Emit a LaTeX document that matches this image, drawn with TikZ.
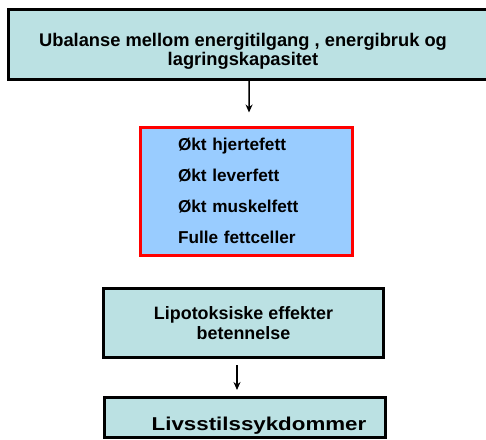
\documentclass[tikz,border=0pt]{standalone}
\usepackage{fontspec}
\setmainfont{Liberation Sans}
\newfontfamily\wideface{Liberation Sans}[FakeStretch=1.2]
\usepackage{tikz}
\usetikzlibrary{arrows.meta, positioning}
\definecolor{tealfill}{HTML}{BBE1E3}
\definecolor{bluefill}{HTML}{99CCFF}
\tikzstyle{box} = [rectangle, draw=black, line width=3pt, fill=tealfill, text centered, align=center, font=\bfseries\fontsize{17.9}{19.5}\selectfont]
\tikzstyle{redbox} = [rectangle, draw=red, line width=3pt, fill=bluefill, align=left, text width=136pt, inner xsep=38pt, font=\bfseries\fontsize{17.2}{31}\selectfont]
\tikzstyle{arrow} = [line width=1.5pt, -{Stealth[length=8pt, width=7pt]}]

\begin{document}
\begin{tikzpicture}[x=1pt, y=-1pt]
    \clip (0,0) rectangle (486,439);
    \fill[white] (0,0) rectangle (486,439);

    \node (imbalance) [box, minimum width=491.5pt, minimum height=69.5pt] at (254.25,44.25) {};
    \node (imbalancetext) [align=center, font=\bfseries\fontsize{18.3}{19.5}\selectfont] at (243,51.5) {Ubalanse mellom energitilgang , energibruk og\\lagringskapasitet};
    \node (fat) [redbox, minimum width=212pt, minimum height=128pt] at (246,191) {Økt hjertefett\\Økt leverfett\\Økt muskelfett\\Fulle fettceller};
    \node (lipo) [box, minimum width=280pt, minimum height=69pt] at (243.5,323) {Lipotoksiske effekter\\betennelse};
    \node (disease) [box, minimum width=281pt, minimum height=40pt, text height=25pt, text depth=0pt, font=\bfseries\wideface\fontsize{18.6}{20}\selectfont] at (245,417.5) {\hspace*{28pt}Livsstilssykdommer};

    \draw [arrow] ([xshift=-5pt]imbalance.south) -- ([yshift=13pt, xshift=3pt]fat.north);
    \draw [arrow] ([xshift=-6.5pt, yshift=-6pt]lipo.south) -- ([xshift=-8pt, yshift=6pt]disease.north);

\end{tikzpicture}
\end{document}
